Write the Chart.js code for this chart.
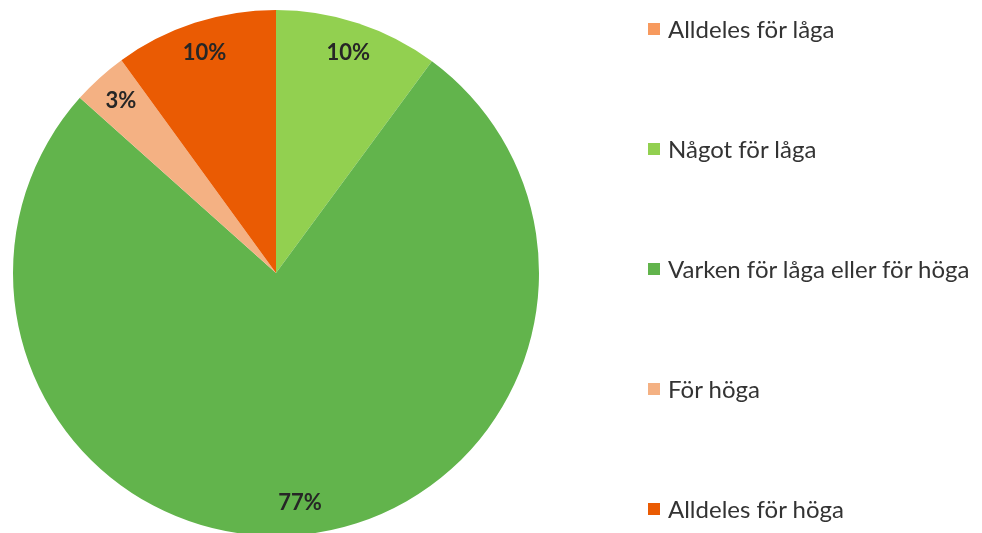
<!DOCTYPE html>
<html>
<head>
<meta charset="utf-8">
<script src="https://cdn.jsdelivr.net/npm/chart.js@4"></script>
<style>
  html, body { margin: 0; padding: 0; background: #fff; overflow: hidden; }
  #wrap { position: absolute; left: 0; top: 0; width: 982px; height: 546px; }
  #legend { position: absolute; left: 648px; top: 0; font-family: Lato, "Open Sans", sans-serif; font-size: 24px; color: #333; }
  #legend .item { position: absolute; left: 0; white-space: nowrap; display: flex; align-items: center; }
  #legend .box { width: 12px; height: 12px; margin-right: 8px; }
</style>
</head>
<body>
<div id="wrap"><canvas id="pie"></canvas></div>
<div id="legend"></div>
<script>
// Chart data
const categories = ['Alldeles för låga', 'Något för låga', 'Varken för låga eller för höga', 'För höga', 'Alldeles för höga'];
const shares = [0, 10.1, 76.5, 3.4, 10.0];
const colors = ['#F79A5E', '#92D050', '#62B44C', '#F4B183', '#EA5B03'];

document.addEventListener('DOMContentLoaded', () => {
    // Legend on the right, one row every ~120px
    const legend = document.getElementById('legend');
    categories.forEach((name, i) => {
        const item = document.createElement('div');
        item.className = 'item';
        item.style.top = (14 + i * 120) + 'px';
        item.innerHTML = '<span class="box" style="background:' + colors[i] + '"></span>' + name;
        legend.appendChild(item);
    });

    // Percent labels drawn inside the slices
    const sliceLabels = {
        id: 'sliceLabels',
        afterDatasetsDraw(chart) {
            const ctx = chart.ctx;
            const meta = chart.getDatasetMeta(0);
            ctx.save();
            ctx.font = 'bold 22px Lato, "Open Sans", sans-serif';
            ctx.fillStyle = '#262626';
            ctx.textAlign = 'center';
            ctx.textBaseline = 'middle';
            meta.data.forEach((arc, i) => {
                if (!shares[i]) return;
                const p = arc.getProps(['x', 'y', 'startAngle', 'endAngle', 'outerRadius'], true);
                const mid = (p.startAngle + p.endAngle) / 2;
                const r = p.outerRadius * 0.88;
                ctx.fillText(Math.round(shares[i]) + '%', p.x + Math.cos(mid) * r, p.y + Math.sin(mid) * r);
            });
            ctx.restore();
        }
    };

    new Chart(document.getElementById('pie'), {
        type: 'pie',
        data: {
            labels: categories,
            datasets: [{
                data: shares,
                backgroundColor: colors,
                borderWidth: 0
            }]
        },
        options: {
            responsive: true,
            maintainAspectRatio: false,
            animation: false,
            layout: { padding: { left: 13, right: 443, top: 10, bottom: 10 } },
            plugins: {
                legend: { display: false },
                tooltip: { enabled: false }
            }
        },
        plugins: [sliceLabels]
    });
});
</script>
</body>
</html>
